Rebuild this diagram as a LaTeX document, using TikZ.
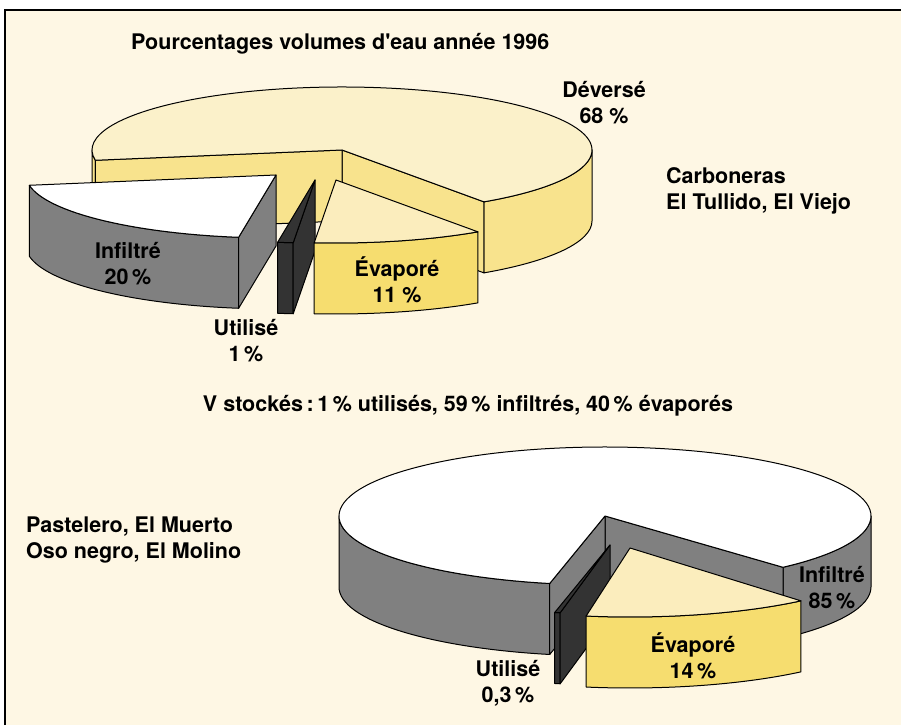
\documentclass[tikz,border=0pt]{standalone}
\usepackage{fontspec}
\setmainfont{TeX Gyre Heros}[Ligatures=TeXOff]

\definecolor{paper}{HTML}{FEF7E4}
\definecolor{devtopc}{HTML}{FBF1CA}
\definecolor{devsidec}{HTML}{F8E38D}
\definecolor{evtopc}{HTML}{FBEDBD}
\definecolor{evfrontc}{HTML}{F6DD6F}
\definecolor{infsidec}{HTML}{808080}
\definecolor{utilc}{HTML}{333333}

\begin{document}
\begin{tikzpicture}[x=1pt,y=1pt,
  outline/.style={draw=black,line width=1pt,line join=round},
  devtop/.style={outline,fill=devtopc},
  devside/.style={outline,fill=devsidec},
  evtop/.style={outline,fill=evtopc},
  evfront/.style={outline,fill=evfrontc},
  inftop/.style={outline,fill=white},
  infside/.style={outline,fill=infsidec},
  utilface/.style={outline,fill=utilc},
  upie/.style={x radius=250,y radius=63},
  lpie/.style={x radius=266,y radius=69},
  lbl/.style={font=\bfseries\fontsize{21.5}{26}\selectfont,inner sep=0pt}]
\useasboundingbox (0,0) rectangle (901,725);
\fill[paper] (5,0) rectangle (901,715);
\draw[line width=2pt] (5,0) -- (5,715) -- (901,715);

\coordinate (carb) at (342,575);
\coordinate (carbinf) at (276,550);
\coordinate (carbuti) at (315,545);
\coordinate (carbeva) at (336,545);
\coordinate (past) at (605,209);
\coordinate (pastuti) at (610,180);
\coordinate (pasteva) at (630,177);

% upper pie: deverse
\path[devside] ([shift={(304.6:250 and 63)}]carb) arc[upie,start angle=304.6,end angle=360] -- ++(0,-71) arc[upie,start angle=360,end angle=304.6] -- cycle;
\path[devside] ([shift={(180:250 and 63)}]carb) arc[upie,start angle=180,end angle=189.4] -- ++(0,-71) arc[upie,start angle=189.4,end angle=180] -- cycle;
\path[devside] (carb) -- ++(304.6:250 and 63) -- ++(0,-71) -- ([yshift=-71pt]carb) -- cycle;
\path[devside] (carb) -- ++(189.4:250 and 63) -- ++(0,-71) -- ([yshift=-71pt]carb) -- cycle;
\path[devtop] (carb) -- ++(304.6:250 and 63) arc[upie,start angle=304.6,end angle=549.4] -- cycle;

% upper pie: infiltre
\path[infside] ([shift={(189.4:250 and 63)}]carbinf) arc[upie,start angle=189.4,end angle=261.4] -- ++(0,-71) arc[upie,start angle=261.4,end angle=189.4] -- cycle;
\path[infside] (carbinf) -- ++(261.4:250 and 63) -- ++(0,-71) -- ([yshift=-71pt]carbinf) -- cycle;
\path[inftop] (carbinf) -- ++(189.4:250 and 63) arc[upie,start angle=189.4,end angle=261.4] -- cycle;

% upper pie: utilise
\path[utilface] ([shift={(261.4:250 and 63)}]carbuti) arc[upie,start angle=261.4,end angle=265] -- ++(0,-71) arc[upie,start angle=265,end angle=261.4] -- cycle;
\path[utilface] (carbuti) -- ++(265:250 and 63) -- ++(0,-71) -- ([yshift=-71pt]carbuti) -- cycle;
\path[utilface] (carbuti) -- ++(261.4:250 and 63) arc[upie,start angle=261.4,end angle=265] -- cycle;

% upper pie: evapore
\path[evfront] ([shift={(265:250 and 63)}]carbeva) arc[upie,start angle=265,end angle=304.6] -- ++(0,-71) arc[upie,start angle=304.6,end angle=265] -- cycle;
\path[evtop] (carbeva) -- ++(265:250 and 63) arc[upie,start angle=265,end angle=304.6] -- cycle;

% lower pie: infiltre
\path[infside] ([shift={(312:266 and 69)}]past) arc[lpie,start angle=312,end angle=360] -- ++(0,-71) arc[lpie,start angle=360,end angle=312] -- cycle;
\path[infside] ([shift={(180:266 and 69)}]past) arc[lpie,start angle=180,end angle=258] -- ++(0,-71) arc[lpie,start angle=258,end angle=180] -- cycle;
\path[infside] (past) -- ++(312:266 and 69) -- ++(0,-71) -- ([yshift=-71pt]past) -- cycle;
\path[infside] (past) -- ++(258:266 and 69) -- ++(0,-71) -- ([yshift=-71pt]past) -- cycle;
\path[inftop] (past) -- ++(312:266 and 69) arc[lpie,start angle=312,end angle=618] -- cycle;

% lower pie: utilise
\path[utilface] ([shift={(258:266 and 69)}]pastuti) arc[lpie,start angle=258,end angle=259.2] -- ++(0,-71) arc[lpie,start angle=259.2,end angle=258] -- cycle;
\path[utilface] (pastuti) -- ++(259.2:266 and 69) -- ++(0,-71) -- ([yshift=-71pt]pastuti) -- cycle;
\path[utilface] (pastuti) -- ++(258:266 and 69) arc[lpie,start angle=258,end angle=259.2] -- cycle;

% lower pie: evapore
\path[evfront] ([shift={(260.5:266 and 69)}]pasteva) arc[lpie,start angle=260.5,end angle=310] -- ++(0,-71) arc[lpie,start angle=310,end angle=260.5] -- cycle;
\path[evtop] (pasteva) -- ++(260.5:266 and 69) arc[lpie,start angle=260.5,end angle=310] -- cycle;

\node[lbl,anchor=base west] (title) at (131,675) {Pourcentages volumes d'eau année 1996};
\node[lbl,align=center] (devlbl) at (604,622) {Déversé\\68 \%};
\node[lbl,align=left,anchor=west] (carbo) at (666,534) {Carboneras\\El Tullido, El Viejo};
\node[lbl,align=center] (inflbl) at (128,461) {Infiltré\\20\,\%};
\node[lbl,align=center] (evalbl) at (397,445) {Évaporé\\11 \%};
\node[lbl,align=center] (utilbl) at (246,384) {Utilisé\\1\,\%};
\node[lbl] (stock) at (468,319) {V stockés\,:\,1\,\% utilisés, 59\,\% infiltrés, 40\,\% évaporés};
\node[lbl,align=left,anchor=west] (pastlbl) at (26,185) {Pastelero, El Muerto\\Oso negro, El Molino};
\node[lbl,align=center] (inf85) at (832,137) {Infiltré\\85\,\%};
\node[lbl,align=center] (eva14) at (693,69) {Évaporé\\14\,\%};
\node[lbl,align=center] (uti03) at (508,42) {Utilisé\\0,3\,\%};
\end{tikzpicture}
\end{document}
